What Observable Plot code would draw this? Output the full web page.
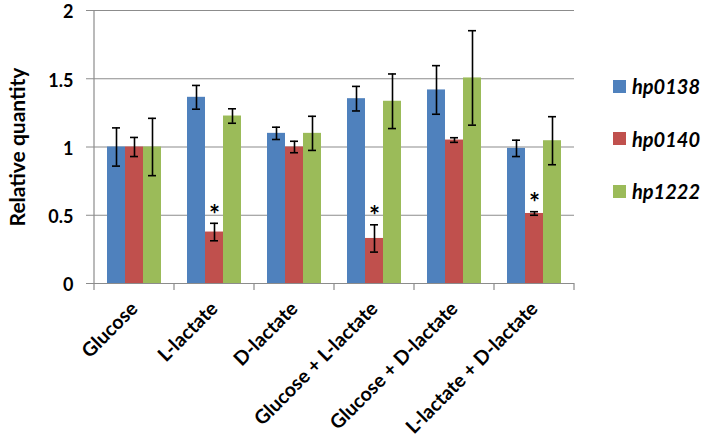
<!DOCTYPE html>
<html>
<head>
<meta charset="utf-8">
<script src="https://cdn.jsdelivr.net/npm/d3@7"></script>
<script src="https://cdn.jsdelivr.net/npm/@observablehq/plot@0.6"></script>
<style>
  html, body { margin: 0; padding: 0; background: #fff; }
  #wrap { position: relative; width: 703px; height: 444px; font-family: Lato, "Open Sans", sans-serif; }
  #legend { position: absolute; left: 613px; top: 60px; }
  .item { display: flex; align-items: center; height: 52.5px; margin: 0; }
  .item .sw { width: 13px; height: 13px; margin-right: 6px; }
  .item span { font-weight: bold; font-style: italic; font-size: 20px; color: #000; }
</style>
</head>
<body>
<div id="wrap"><div id="legend"></div></div>
<script>
const categories = ["Glucose", "L-lactate", "D-lactate", "Glucose + L-lactate", "Glucose + D-lactate", "L-lactate + D-lactate"];
const series = ["hp0138", "hp0140", "hp1222"];
const colors = ["#4F81BD", "#C0504D", "#9BBB59"];
const hp0138 = [1.00, 1.364, 1.10, 1.354, 1.418, 0.99];
const hp0138Err = [0.14, 0.087, 0.045, 0.09, 0.178, 0.06];
const hp0140 = [1.00, 0.377, 1.00, 0.33, 1.051, 0.513];
const hp0140Err = [0.07, 0.064, 0.042, 0.10, 0.017, 0.013];
const hp1222 = [1.00, 1.227, 1.10, 1.335, 1.506, 1.046];
const hp1222Err = [0.21, 0.053, 0.125, 0.20, 0.346, 0.176];
const significant = {hp0138: [], hp0140: ["L-lactate", "Glucose + L-lactate", "L-lactate + D-lactate"], hp1222: []};
const yTicks = [0, 0.5, 1, 1.5, 2];
const yTickLabels = ["0", "0.5", "1", "1.5", "2"];
const yLabel = "Relative quantity";

const values = {hp0138, hp0140, hp1222};
const errs = {hp0138: hp0138Err, hp0140: hp0140Err, hp1222: hp1222Err};
const data = [];
categories.forEach((c, i) => series.forEach(s => {
  data.push({category: c, series: s, value: values[s][i], low: values[s][i] - errs[s][i], high: values[s][i] + errs[s][i], star: significant[s].includes(c)});
}));
const stars = data.filter(d => d.star);
const yTickData = yTicks.map((v, i) => ({value: v, label: yTickLabels[i]}));

const gridColor = "#8c8c8c";
const font = "Lato, 'Open Sans', sans-serif";

function axisLines(index, scales, values, dimensions) {
  const {marginLeft, marginRight, marginTop, marginBottom, width, height} = dimensions;
  const band = d3.scaleBand().domain(categories).range([marginLeft, width - marginRight]);
  const y0 = height - marginBottom;
  const g = d3.create("svg:g").attr("stroke", gridColor).attr("stroke-width", 1.2);
  g.append("line").attr("x1", marginLeft).attr("x2", marginLeft).attr("y1", marginTop).attr("y2", y0 + 0.5);
  const bounds = categories.map(c => band(c)).concat([width - marginRight]);
  for (const b of bounds) g.append("line").attr("x1", b).attr("x2", b).attr("y1", y0).attr("y2", y0 + 7);
  return g.node();
}

const chart = Plot.plot({
  width: 703,
  height: 444,
  marginLeft: 91,
  marginRight: 127,
  marginTop: 10,
  marginBottom: 161,
  style: {fontFamily: font, background: "white"},
  fx: {domain: categories, padding: 0, label: null, axis: null},
  x: {domain: series, paddingInner: 0, paddingOuter: 0.7, axis: null},
  y: {domain: [0, 2], axis: null},
  color: {domain: series, range: colors},
  marks: [
    Plot.gridY(yTicks.filter(d => d > 0), {stroke: gridColor, strokeOpacity: 1, strokeWidth: 1.2}),
    Plot.ruleY([0], {stroke: gridColor, strokeWidth: 1.2}),
    Plot.barY(data, {fx: "category", x: "series", y: "value", fill: "series", inset: 0}),
    Plot.ruleX(data, {fx: "category", x: "series", y1: "low", y2: "high", stroke: "black", strokeWidth: 1.6}),
    Plot.tickY(data, {fx: "category", x: "series", y: "low", stroke: "black", strokeWidth: 1.6, insetLeft: 5, insetRight: 5}),
    Plot.tickY(data, {fx: "category", x: "series", y: "high", stroke: "black", strokeWidth: 1.6, insetLeft: 5, insetRight: 5}),
    Plot.text(stars, {fx: "category", x: "series", y: "high", text: () => "*", fontSize: 26, fontWeight: "bold", lineAnchor: "middle", dy: -8, fill: "black"}),
    Plot.axisY({ticks: yTicks, tickSize: 8, tickFormat: () => "", stroke: gridColor, label: null}),
    Plot.text(yTickData, {fx: () => categories[0], y: "value", text: "label", frameAnchor: "left", textAnchor: "end", dx: -21, dy: 2, fontSize: 18, fontWeight: "bold", fill: "black"}),
    Plot.text([yLabel], {facet: "super", frameAnchor: "left", textAnchor: "middle", dx: -76, rotate: -90, fontSize: 21, fontWeight: "bold", fill: "black"}),
    Plot.axisFx({anchor: "bottom", tickSize: 0, tickPadding: 22, tickRotate: -45, fontSize: 19.5, fontWeight: "bold", label: null, color: "black"}),
    Plot.frame({facet: "super", render: (index, scales, values, dimensions) => axisLines(index, scales, values, dimensions)})
  ]
});

document.getElementById("wrap").prepend(chart);
const legend = d3.select("#legend");
series.forEach((s, i) => {
  const it = legend.append("div").attr("class", "item");
  it.append("div").attr("class", "sw").style("background", colors[i]);
  it.append("span").text(s);
});
</script>
</body>
</html>
